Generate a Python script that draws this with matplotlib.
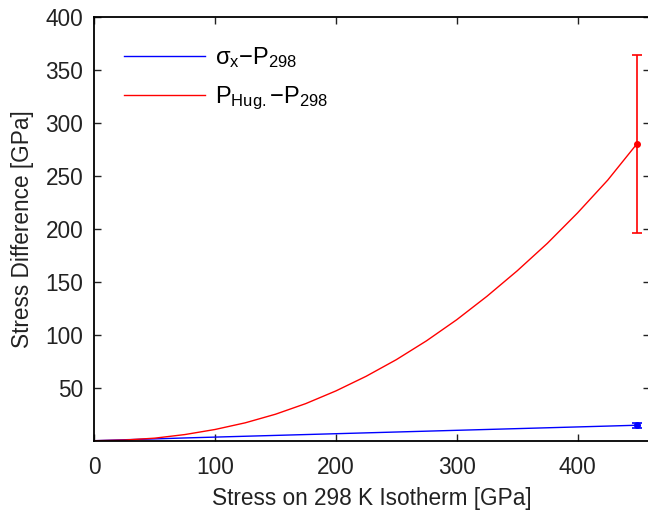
import matplotlib
matplotlib.use("Agg")
import matplotlib.pyplot as plt

plt.rcParams['font.family'] = ['Liberation Sans', 'DejaVu Sans']
plt.rcParams['mathtext.fontset'] = 'custom'
plt.rcParams['mathtext.rm'] = 'Liberation Sans'
plt.rcParams['mathtext.it'] = 'Liberation Sans'
plt.rcParams['mathtext.default'] = 'regular'

stress = [0, 25, 50, 75, 100, 125, 150, 175, 200, 225, 250, 275, 300, 325, 350, 375, 400, 425, 449]
sigma_x_diff = [0, 0.9, 1.7, 2.6, 3.4, 4.2, 5.0, 5.8, 6.6, 7.4, 8.2, 9.0, 9.8, 10.6, 11.4, 12.2, 13.0, 13.8, 14.6]
p_hug_diff = [0, 0.6, 2.4, 5.8, 10.6, 16.9, 25.0, 35.0, 47.0, 60.8, 76.5, 94.3, 114.2, 136.3, 160.3, 186.3, 215.0, 246.0, 280.0]

err_x = 449
blue_pt, blue_err = 14.6, 2.4
red_pt, red_err = 280, 84

xticks = [0, 100, 200, 300, 400]
yticks = [50, 100, 150, 200, 250, 300, 350, 400]

W, H = 648, 513
fig = plt.figure(figsize=(W / 100, H / 100), dpi=100)
left, right, top, bottom = 94.3, 650, 17, 440.7
ax = fig.add_axes([left / W, 1 - bottom / H, (right - left) / W, (bottom - top) / H])

ax.plot(stress, sigma_x_diff, color='#0000ff', lw=1.0, label=r'$\sigma_x$−P$_{298}$')
ax.plot(stress, p_hug_diff, color='#ff0000', lw=1.0, label=r'P$_{Hug.}$−P$_{298}$')
ax.errorbar([err_x], [blue_pt], yerr=[blue_err], color='#0000ff', ecolor='#0000ff',
            marker='o', ms=4, capsize=3.6, elinewidth=1.2, capthick=1.2)
ax.errorbar([err_x], [red_pt], yerr=[red_err], color='#ff0000', ecolor='#ff0000',
            marker='o', ms=4, capsize=3.6, elinewidth=1.2, capthick=1.2)

ax.set_xlim(0, 460)
ax.set_ylim(0, 400)
ax.set_xticks(xticks)
ax.set_yticks(yticks)
ax.tick_params(direction='in', length=5, width=1, top=True, right=True,
               labelsize=16.3, colors='#222222')
ax.tick_params(axis='x', pad=11)
ax.tick_params(axis='y', pad=8)
for s in ax.spines.values():
    s.set_linewidth(1.3)
ax.set_xlabel('Stress on 298 K Isotherm [GPa]', fontsize=16.3, color='#222222', labelpad=6)
ax.set_ylabel('Stress Difference [GPa]', fontsize=16.3, color='#222222', labelpad=8)

leg = ax.legend(loc='upper left', bbox_to_anchor=(0.037, 0.955), frameon=False,
                fontsize=17, handlelength=3.4, handletextpad=0.45, labelspacing=0.62,
                borderaxespad=0)

fig.savefig('out.png', dpi=100)
